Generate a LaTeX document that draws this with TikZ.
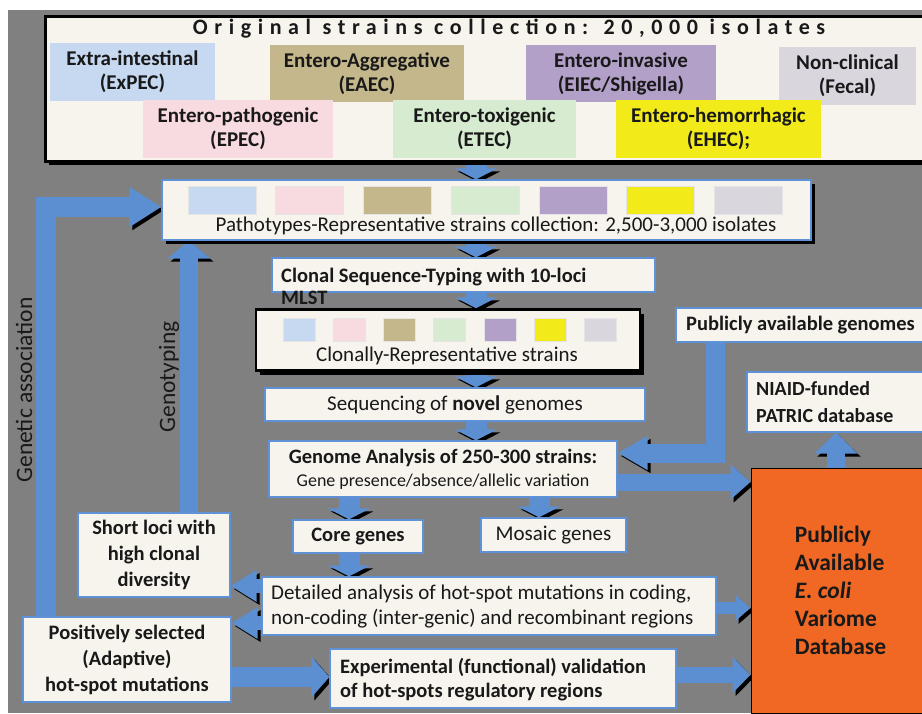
\documentclass[tikz,border=0pt]{standalone}
\usepackage{fontspec}
\setmainfont{Carlito}
\newfontfamily\titlefont{Carlito}[LetterSpace=30]
\usetikzlibrary{arrows.meta}
\definecolor{bgray}{RGB}{128,128,128}
\definecolor{cream}{RGB}{247,243,237}
\definecolor{boxblue}{RGB}{95,145,215}
\definecolor{fatblue}{RGB}{92,142,210}
\definecolor{cBlue}{RGB}{198,217,241}
\definecolor{cPink}{RGB}{248,219,225}
\definecolor{cTan}{RGB}{196,183,140}
\definecolor{cGreen}{RGB}{214,235,208}
\definecolor{cPurple}{RGB}{178,160,200}
\definecolor{cYellow}{RGB}{242,235,25}
\definecolor{cGray}{RGB}{218,214,222}
\definecolor{cOrange}{RGB}{240,104,36}
\definecolor{txt}{RGB}{25,25,25}
\pgfdeclarelayer{bglayer}
\pgfdeclarelayer{arrlayer}
\pgfsetlayers{bglayer,arrlayer,main}
\begin{document}
\begin{tikzpicture}[x=1pt,y=-1pt,
  box/.style={draw=boxblue, line width=1.2pt, fill=cream, inner sep=0pt, align=center, text=txt},
  shbox/.style={box, preaction={fill=black, transform canvas={shift={(4pt,-4pt)}}}},
  blkbox/.style={shbox, draw=black, line width=2.5pt},
  sub/.style={inner sep=0pt, align=center, text=txt, font=\bfseries\fontsize{21}{24}\selectfont},
  swatch/.style={inner sep=0pt, draw=white!80!gray, line width=0.8pt},
  rg/.style={font=\fontsize{21}{25}\selectfont},
  bd/.style={font=\bfseries\fontsize{20.5}{25}\selectfont},
  ltxt/.style={anchor=west, align=flush left, inner sep=0pt, text=txt},
  fat/.style={draw=fatblue, line join=miter, preaction={draw=black, transform canvas={shift={(3pt,-3pt)}}}},
  dn/.style={fat, line width=21pt, -{Triangle[length=11pt,width=42pt]}},
]
\clip (0,0) rectangle (922,713);
\begin{pgfonlayer}{bglayer}
\fill[bgray] (8,10) rectangle (922,713);
\end{pgfonlayer}

% top collection box
\node[blkbox, line width=3pt, minimum width=885pt, minimum height=145pt] (top) at (487.5,88.5) {};
\node[text=txt, font=\titlefont\bfseries\fontsize{22}{24}\selectfont] (title) at (509,29) {Original strains collection: 20,000 isolates};
\node[sub, fill=cBlue, minimum width=165pt, minimum height=58pt] (expec) at (132.5,72) {Extra-intestinal\\(ExPEC)};
\node[sub, fill=cTan, minimum width=194pt, minimum height=57pt] (eaec) at (367,73.5) {Entero-Aggregative\\(EAEC)};
\node[sub, fill=cPurple, minimum width=190pt, minimum height=57pt] (eiec) at (621,73.5) {Entero-invasive\\(EIEC/Shigella)};
\node[sub, fill=cGray, minimum width=137pt, minimum height=58pt] (fecal) at (847.5,76) {Non-clinical\\(Fecal)};
\node[sub, fill=cPink, minimum width=190pt, minimum height=58pt] (epec) at (238,129) {Entero-pathogenic\\(EPEC)};
\node[sub, fill=cGreen, minimum width=183pt, minimum height=58pt] (etec) at (484.5,129) {Entero-toxigenic\\(ETEC)};
\node[sub, fill=cYellow, minimum width=205pt, minimum height=58pt] (ehec) at (718.5,129) {Entero-hemorrhagic\\(EHEC);};

% pathotypes box
\node[shbox, minimum width=649pt, minimum height=60pt] (patho) at (486.5,210) {};
\foreach \c/\x [count=\i] in {cBlue/222,cPink/309,cTan/397,cGreen/485,cPurple/573,cYellow/660,cGray/748}
  \node[swatch, fill=\c, minimum width=68pt, minimum height=28pt] (ps\i) at (\x,200) {};
\node[rg, text=txt] (pathotxt) at (496,226) {Pathotypes-Representative strains collection: 2,500-3,000 isolates};

% clonal typing box
\node[box, minimum width=383pt, minimum height=34pt] (clonal) at (463.5,275) {};

% clonally representative
\node[blkbox, minimum width=384pt, minimum height=61pt] (clonally) at (448,340) {};
\foreach \c/\x [count=\i] in {cBlue/299,cPink/349,cTan/399,cGreen/449,cPurple/500,cYellow/550,cGray/600}
  \node[swatch, fill=\c, minimum width=32pt, minimum height=23pt] (cs\i) at (\x,329.5) {};
\node[rg, text=txt] (clonallytxt) at (447,356) {Clonally-Representative strains};

% clonal typing text (drawn above both boxes)
\node[font=\bfseries\fontsize{20.5}{22}\selectfont, ltxt] (clonaltxt) at (281,286) {Clonal Sequence-Typing with 10-loci\\MLST};

\node[box, rg, minimum width=380pt, minimum height=33pt] (seq) at (455,404.5) {Sequencing of \textbf{novel} genomes};
\node[box, minimum width=348pt, minimum height=56pt] (genome) at (443,469) {\bfseries\fontsize{20.5}{22}\selectfont Genome Analysis of 250-300 strains:\\[6pt]\fontsize{18}{20}\selectfont Gene presence/absence/allelic variation};

\node[box, minimum width=254pt, minimum height=34pt] (pub) at (803,325) {};
\node[bd, ltxt] (pubtxt) at (686,325) {Publicly available genomes};
\node[box, minimum width=183pt, minimum height=60pt] (niaid) at (838.5,402) {};
\node[ltxt, font=\bfseries\fontsize{20}{27}\selectfont] (niaidtxt) at (756,402) {NIAID-funded\\PATRIC database};
\node[draw=black, line width=1pt, fill=cOrange, text=txt, align=left, inner sep=0pt, minimum width=179pt, minimum height=245pt, font=\bfseries\fontsize{23.5}{28}\selectfont] (var) at (840.5,590.5) {Publicly\\Available\\\textit{E. coli}\\Variome\\Database};

\node[box, bd, minimum width=130pt, minimum height=33pt] (core) at (358,536.5) {Core genes};
\node[box, rg, minimum width=145pt, minimum height=34pt] (mosaic) at (553.5,535) {Mosaic genes};
\node[box, minimum width=454pt, minimum height=58pt] (detail) at (489,606) {};
\node[ltxt, font=\fontsize{21}{25}\selectfont] (detailtxt) at (271,607) {Detailed analysis of hot-spot mutations in coding,\\non-coding (inter-genic) and recombinant regions};
\node[box, font=\bfseries\fontsize{20.5}{26}\selectfont, minimum width=152pt, minimum height=84pt] (short) at (154,555) {Short loci with\\high clonal\\diversity};
\node[box, font=\bfseries\fontsize{20.5}{26}\selectfont, minimum width=208pt, minimum height=85pt] (pos) at (127,659.5) {Positively selected\\(Adaptive)\\hot-spot mutations};
\node[box, minimum width=346pt, minimum height=59pt] (exp) at (503,678.5) {};
\node[ltxt, font=\bfseries\fontsize{20.5}{24}\selectfont] (exptxt) at (340,680) {Experimental (functional) validation\\of hot-spots regulatory regions};

\node[rotate=90, text=txt, font=\fontsize{23.5}{25}\selectfont] (galab) at (24,390) {Genetic association};
\node[rotate=90, text=txt, font=\fontsize{23.5}{25}\selectfont] (gtlab) at (169,377) {Genotyping};

% arrows
\begin{pgfonlayer}{arrlayer}
\coordinate (col) at (476,0);
\coordinate (corecol) at (349,0);
\coordinate (moscol) at (539,0);
\coordinate (pubcol) at (715,0);
\coordinate (nicol) at (836,0);
\coordinate (gcol) at (46,0);
\coordinate (gtcol) at (189,0);
\draw[dn] (top.south -| col) -- (patho.north -| col);
\draw[dn] (patho.south -| col) -- (clonal.north -| col);
\draw[dn] (clonal.south -| col) -- (clonally.north -| col);
\draw[dn] (clonally.south -| col) -- (seq.north -| col);
\draw[dn] (seq.south -| col) -- (genome.north -| col);
\draw[dn] (genome.south -| corecol) -- (core.north -| corecol);
\draw[dn] (genome.south -| moscol) -- (mosaic.north -| moscol);
\draw[dn] (core.south -| corecol) -- (detail.north -| corecol);
\draw[fat, line width=19pt, -{Triangle[length=30pt,width=32pt]}] (pub.south -| pubcol) |- ([yshift=16pt]genome.east);
\draw[fat, line width=17pt, -{Triangle[length=20pt,width=34pt]}] ([yshift=-13pt]genome.east) -- ([yshift=-13pt]genome.east -| var.west);
\draw[fat, line width=18pt, -{Triangle[length=21pt,width=42pt]}] (var.north -| nicol) -- (niaid.south -| nicol);
\draw[fat, line width=14pt, -{Triangle[length=26pt,width=30pt]}] ([yshift=20pt]detail.west) -- ([yshift=20pt]detail.west -| short.east);
\draw[fat, line width=14pt, -{Triangle[length=26pt,width=30pt]}] ([yshift=-17pt]detail.west) -- ([yshift=-17pt]detail.west -| pos.east);
\draw[fat, line width=20pt, -{Triangle[length=18pt,width=40pt]}] ([yshift=-17.5pt]pos.east) -- ([yshift=-17.5pt]pos.east -| exp.west);
\draw[fat, line width=12pt, -{Triangle[length=15pt,width=25pt]}] ([yshift=-2pt]detail.east) -- ([yshift=-2pt]detail.east -| var.west);
\draw[fat, line width=16pt, -{Triangle[length=18pt,width=35pt]}] ([yshift=3.5pt]exp.east) -- ([yshift=3.5pt]exp.east -| var.west);
\draw[fat, line width=20pt, -{Triangle[length=32pt,width=38pt]}] (pos.north -| gcol) |- ([yshift=3pt]patho.west);
\draw[fat, line width=18pt, -{Triangle[length=18pt,width=42pt]}] (short.north -| gtcol) -- (patho.south -| gtcol);
\end{pgfonlayer}
\end{tikzpicture}
\end{document}
